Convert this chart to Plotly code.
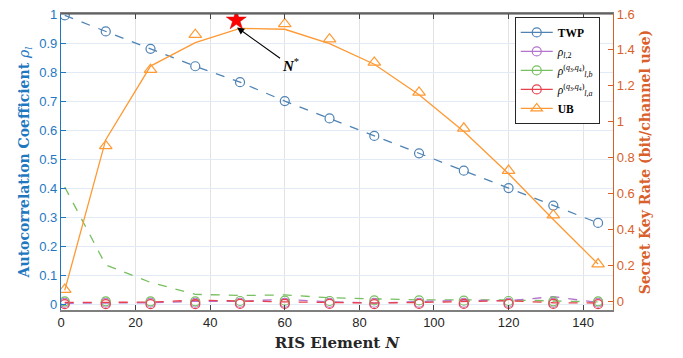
import plotly.graph_objects as go

# ---- data ----
N = [1, 12, 24, 36, 48, 60, 72, 84, 96, 108, 120, 132, 144]
twp = [0.995, 0.94, 0.88, 0.82, 0.765, 0.70, 0.64, 0.58, 0.52, 0.46, 0.40, 0.34, 0.28]
rho2_line = [0.003, 0.004, 0.005, 0.010, 0.010, 0.017, 0.008, 0.004, 0.008, 0.014, 0.012, 0.026, 0.006]
rho2_mark = [0.005, 0.005, 0.005, 0.005, 0.005, 0.005, 0.005, 0.005, 0.005, 0.005, 0.005, 0.005, 0.005]
rhob_line = [0.404, 0.135, 0.075, 0.034, 0.030, 0.032, 0.022, 0.019, 0.015, 0.015, 0.015, 0.011, 0.008]
rhob_mark = [0.010, 0.010, 0.010, 0.010, 0.011, 0.012, 0.011, 0.013, 0.013, 0.012, 0.011, 0.010, 0.010]
rhoa_line = [0.006, 0.006, 0.007, 0.014, 0.010, 0.008, 0.006, 0.004, 0.006, 0.009, 0.012, 0.005, 0.004]
rhoa_mark = [0.000, 0.000, 0.000, 0.000, 0.001, 0.001, 0.001, 0.000, 0.001, 0.001, 0.001, 0.001, 0.000]
ub_line = [0.06, 0.90, 1.31, 1.44, 1.52, 1.515, 1.435, 1.32, 1.15, 0.945, 0.71, 0.455, 0.207]
ub_mark = [0.065, 0.865, 1.29, 1.485, None, 1.545, 1.46, 1.33, 1.163, 0.963, 0.728, 0.479, 0.207]
n_star = [47]
rate_star = [1.565]

C_TWP = "#4f83b3"
C_P2 = "#b473cc"
C_PB = "#77bf5f"
C_PA = "#e8404c"
C_UB = "#ff9933"
C_LEFT = "#1f78bf"
C_RIGHT = "#d9602a"

SERIF = "DejaVu Serif, Liberation Serif, serif"
LSERIF = "Liberation Serif, DejaVu Serif, serif"
SANS = "Liberation Sans, Arial, sans-serif"

fig = go.Figure()

def line(y, color, dash, axis="y"):
    fig.add_trace(go.Scatter(x=N, y=y, mode="lines", yaxis=axis, showlegend=False,
                             line=dict(color=color, width=1.3, dash=dash), hoverinfo="skip"))

def marks(y, color, symbol, size, axis="y"):
    fig.add_trace(go.Scatter(x=N, y=y, mode="markers", yaxis=axis, showlegend=False,
                             marker=dict(color=color, symbol=symbol, size=size,
                                         line=dict(color=color, width=1.2))))

line(rhob_line, C_PB, "dash")
line(rho2_line, C_P2, "dash")
line(rhoa_line, C_PA, "dash")
marks(rho2_mark, C_P2, "circle-open", 9)
marks(rhob_mark, C_PB, "circle-open", 9)
marks(rhoa_mark, C_PA, "circle-open", 9)
line(twp, C_TWP, "dash")
marks(twp, C_TWP, "circle-open", 9)
line(ub_line, C_UB, "solid", "y2")
marks(ub_mark, C_UB, "triangle-up-open", 11, "y2")
fig.add_trace(go.Scatter(x=n_star, y=rate_star, mode="markers", yaxis="y2", showlegend=False,
                         marker=dict(color="#ff0000", symbol="star", size=15,
                                     line=dict(color="#cc0000", width=0.5))))

# legend-only entries
legend_items = [
    ("<b>TWP</b>", C_TWP, "circle-open", 9),
    ("<i>ρ</i><sub><i>l</i>,2</sub>", C_P2, "circle-open", 9),
    ("<i>ρ</i><sup>(<i>q</i><sub>3</sub>,<i>q</i><sub>4</sub>)</sup><sub><i>l,b</i></sub>", C_PB, "circle-open", 9),
    ("<i>ρ</i><sup>(<i>q</i><sub>3</sub>,<i>q</i><sub>4</sub>)</sup><sub><i>l,a</i></sub>", C_PA, "circle-open", 9),
    ("<b>UB</b>", C_UB, "triangle-up-open", 10),
]
for name, color, sym, sz in legend_items:
    fig.add_trace(go.Scatter(x=[None], y=[None], mode="lines+markers", name=name,
                             line=dict(color=color, width=1.3),
                             marker=dict(color=color, symbol=sym, size=sz,
                                         line=dict(color=color, width=1.2))))

fig.add_annotation(x=47.2, y=1.525, xref="x", yref="y2", ax=53, ay=38,
                   text="<b><i>N</i></b><sup>*</sup>", showarrow=True,
                   arrowhead=2, arrowsize=1.3, arrowwidth=1.1, arrowcolor="black",
                   font=dict(family=LSERIF, size=15, color="black"))

fig.update_layout(
    width=683, height=358,
    margin=dict(l=61, r=70, t=7, b=48),
    paper_bgcolor="white", plot_bgcolor="white",
    showlegend=True,
    legend=dict(x=0.822, y=0.99, xanchor="left", yanchor="top",
                bgcolor="white", bordercolor="#262626", borderwidth=1,
                font=dict(family=LSERIF, size=11.5, color="black"),
                tracegroupgap=0, itemwidth=32),
    xaxis=dict(range=[0, 148], tickvals=[0, 20, 40, 60, 80, 100, 120, 140],
               ticks="inside", ticklen=5, tickcolor="#444", mirror="ticks",
               showline=True, linecolor="#7f7f7f", linewidth=1.5,
               showgrid=True, gridcolor="#e3e3e3", gridwidth=1, zeroline=False,
               tickfont=dict(family=SANS, size=13, color="#262626"),
               title=dict(text="<b>RIS Element </b><b><i>N</i></b>", standoff=8,
                          font=dict(family=SERIF, size=15, color="#262626"))),
    yaxis=dict(range=[-0.02, 1.0], dtick=0.1, tick0=0,
               ticks="inside", ticklen=5, tickcolor=C_LEFT,
               showline=True, linecolor=C_LEFT, linewidth=1.2,
               showgrid=True, gridcolor="#e2ebf5", gridwidth=1.2, zeroline=False,
               tickfont=dict(family=SANS, size=13, color=C_LEFT),
               title=dict(text="<b>Autocorrelation Coefficient </b><i>ρ<sub>l</sub></i>", standoff=6,
                          font=dict(family=SERIF, size=14, color=C_LEFT))),
    yaxis2=dict(range=[-0.049, 1.6], dtick=0.2, tick0=0, overlaying="y", side="right",
                ticks="inside", ticklen=5, tickcolor=C_RIGHT,
                showline=True, linecolor=C_RIGHT, linewidth=1.2,
                showgrid=False, zeroline=False,
                tickfont=dict(family=SANS, size=13, color=C_RIGHT),
                title=dict(text="<b>Secret Key Rate (bit/channel use)</b>", standoff=6,
                           font=dict(family=SERIF, size=14, color=C_RIGHT))),
)

# top border line
fig.add_shape(type="line", xref="paper", yref="paper", x0=0, x1=1, y0=1, y1=1,
              line=dict(color="#444", width=1.2))

fig.write_html("out.html")
